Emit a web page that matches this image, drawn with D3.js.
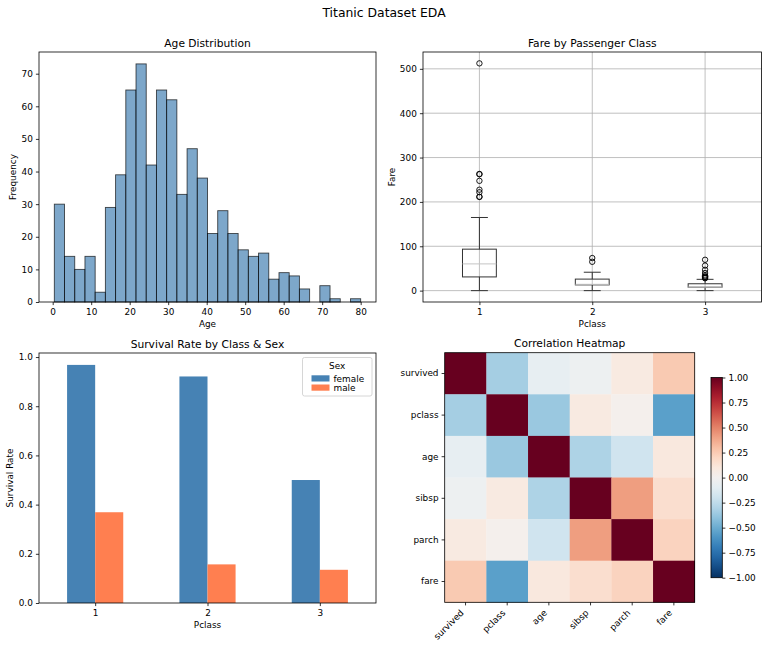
<!DOCTYPE html>
<html>
<head>
<meta charset="utf-8">
<script src="https://cdn.jsdelivr.net/npm/d3@7"></script>
<style>
  body { margin: 0; background: #fff; }
  svg, text { font-family: "DejaVu Sans", sans-serif; }
  text { fill: #000; }
</style>
</head>
<body>
<svg id="fig" width="768" height="649" font-family="DejaVu Sans"></svg>
<script>
// ---- data ----
var ageRange = [0.42, 80];
var ageCounts = [30, 14, 10, 14, 3, 29, 39, 65, 73, 42, 65, 62, 33, 47, 38,
                 21, 28, 21, 16, 14, 15, 7, 9, 8, 4, 0, 5, 1, 0, 1];
var ageTicks = [0, 10, 20, 30, 40, 50, 60, 70, 80];
var freqTicks = [0, 10, 20, 30, 40, 50, 60, 70];

var pclasses = [1, 2, 3];
var fareQ1 = [30.92, 13, 7.75];
var fareMedian = [60.29, 14.25, 8.05];
var fareQ3 = [93.5, 26, 15.5];
var fareLo = [0, 0, 0];
var fareHi = [164.87, 41.5, 25.47];
var fareOutliers = [
  [211.34, 211.5, 221.78, 227.53, 247.52, 262.38, 263, 512.33],
  [65, 73.5],
  [27.9, 29.13, 31.28, 31.39, 34.38, 39.69, 46.9, 56.5, 69.55]
];
var fareTicks = [0, 100, 200, 300, 400, 500];

var sexes = ['female', 'male'];
var survFemale = [0.968, 0.921, 0.5];
var survMale = [0.369, 0.157, 0.135];
var survTicks = [0, 0.2, 0.4, 0.6, 0.8, 1.0];

var corrVars = ['survived', 'pclass', 'age', 'sibsp', 'parch', 'fare'];
var corr = [
  [1.000, -0.338, -0.077, -0.035, 0.082, 0.257],
  [-0.338, 1.000, -0.369, 0.083, 0.018, -0.549],
  [-0.077, -0.369, 1.000, -0.308, -0.189, 0.096],
  [-0.035, 0.083, -0.308, 1.000, 0.415, 0.160],
  [0.082, 0.018, -0.189, 0.415, 1.000, 0.216],
  [0.257, -0.549, 0.096, 0.160, 0.216, 1.000]
];
var cbarTicks = [1, 0.75, 0.5, 0.25, 0, -0.25, -0.5, -0.75, -1];

// ---- figure ----
var svg = d3.select('#fig');
var fs = 8.9, tfs = 10.7;
var minus = s => s.replace('-', '\u2212');

svg.append('text').attr('x', 384).attr('y', 16.5).attr('text-anchor', 'middle')
  .style('font-size', '12.4px').text('Titanic Dataset EDA');

function styleAxis(g) {
  g.select('.domain').remove();
  g.attr('font-family', 'DejaVu Sans').attr('font-size', null);
  g.selectAll('line').attr('stroke', '#000').attr('stroke-width', 0.8);
  g.selectAll('text').style('font-size', fs + 'px').style('font-family', 'DejaVu Sans');
}
function frame(b) {
  svg.append('rect').attr('x', b.l).attr('y', b.t).attr('width', b.r - b.l).attr('height', b.b - b.t)
    .attr('fill', 'none').attr('stroke', '#000').attr('stroke-width', 0.8);
}
function titles(b, title, xlab, ylab, xlabY, ylabX) {
  svg.append('text').attr('x', (b.l + b.r) / 2).attr('y', b.t - 5.5).attr('text-anchor', 'middle')
    .style('font-size', tfs + 'px').text(title);
  if (xlab) svg.append('text').attr('x', (b.l + b.r) / 2).attr('y', xlabY).attr('text-anchor', 'middle')
    .style('font-size', fs + 'px').text(xlab);
  if (ylab) svg.append('text').attr('transform', 'translate(' + ylabX + ',' + ((b.t + b.b) / 2) + ') rotate(-90)')
    .attr('text-anchor', 'middle').style('font-size', fs + 'px').text(ylab);
}

// 1. Age histogram
var b1 = {l: 39, r: 376, t: 52, b: 302};
var binW = (ageRange[1] - ageRange[0]) / ageCounts.length;
var pad1 = (ageRange[1] - ageRange[0]) * 0.05;
var x1 = d3.scaleLinear().domain([ageRange[0] - pad1, ageRange[1] + pad1]).range([b1.l, b1.r]);
var y1 = d3.scaleLinear().domain([0, d3.max(ageCounts) * 1.05]).range([b1.b, b1.t]);
svg.append('g').selectAll('rect').data(ageCounts).join('rect')
  .attr('x', (d, i) => x1(ageRange[0] + i * binW))
  .attr('width', (d, i) => x1(ageRange[0] + (i + 1) * binW) - x1(ageRange[0] + i * binW))
  .attr('y', d => y1(d)).attr('height', d => y1(0) - y1(d))
  .attr('fill', 'steelblue').attr('fill-opacity', 0.7)
  .attr('stroke', '#000').attr('stroke-opacity', 0.7).attr('stroke-width', 0.9)
  .style('display', d => d > 0 ? null : 'none');
frame(b1);
svg.append('g').attr('transform', 'translate(0,' + b1.b + ')')
  .call(d3.axisBottom(x1).tickValues(ageTicks).tickSize(3.1).tickPadding(3.1)).call(styleAxis);
svg.append('g').attr('transform', 'translate(' + b1.l + ',0)')
  .call(d3.axisLeft(y1).tickValues(freqTicks).tickSize(3.1).tickPadding(3.1)).call(styleAxis);
titles(b1, 'Age Distribution', 'Age', 'Frequency', 327, 16);

// 2. Fare boxplot
var b2 = {l: 423, r: 761.5, t: 52, b: 302};
var allFare = fareOutliers.flat().concat(fareLo);
var fmin = d3.min(allFare), fmax = d3.max(allFare), pad2 = (fmax - fmin) * 0.05;
var x2 = d3.scaleLinear().domain([0.5, 3.5]).range([b2.l, b2.r]);
var y2 = d3.scaleLinear().domain([fmin - pad2, fmax + pad2]).range([b2.b, b2.t]);
var grid = svg.append('g').attr('stroke', '#b0b0b0').attr('stroke-width', 0.8);
grid.selectAll('.gx').data(pclasses).join('line').attr('x1', d => x2(d)).attr('x2', d => x2(d))
  .attr('y1', b2.t).attr('y2', b2.b);
grid.selectAll('.gy').data(fareTicks).join('line').attr('y1', d => y2(d)).attr('y2', d => y2(d))
  .attr('x1', b2.l).attr('x2', b2.r);
var bw = 0.3;
var boxes = svg.append('g').selectAll('g').data(pclasses).join('g');
boxes.append('line').attr('x1', d => x2(d)).attr('x2', d => x2(d))
  .attr('y1', (d, i) => y2(fareLo[i])).attr('y2', (d, i) => y2(fareQ1[i])).attr('stroke', '#333');
boxes.append('line').attr('x1', d => x2(d)).attr('x2', d => x2(d))
  .attr('y1', (d, i) => y2(fareQ3[i])).attr('y2', (d, i) => y2(fareHi[i])).attr('stroke', '#333');
boxes.append('line').attr('x1', d => x2(d - bw / 4)).attr('x2', d => x2(d + bw / 4))
  .attr('y1', (d, i) => y2(fareLo[i])).attr('y2', (d, i) => y2(fareLo[i])).attr('stroke', '#333');
boxes.append('line').attr('x1', d => x2(d - bw / 4)).attr('x2', d => x2(d + bw / 4))
  .attr('y1', (d, i) => y2(fareHi[i])).attr('y2', (d, i) => y2(fareHi[i])).attr('stroke', '#333');
boxes.append('rect').attr('x', d => x2(d - bw / 2)).attr('width', x2(bw) - x2(0))
  .attr('y', (d, i) => y2(fareQ3[i])).attr('height', (d, i) => y2(fareQ1[i]) - y2(fareQ3[i]))
  .attr('fill', 'none').attr('stroke', '#333');
boxes.append('line').attr('x1', d => x2(d - bw / 2)).attr('x2', d => x2(d + bw / 2))
  .attr('y1', (d, i) => y2(fareMedian[i])).attr('y2', (d, i) => y2(fareMedian[i])).attr('stroke', '#c4c4c4');
boxes.each(function (d, i) {
  d3.select(this).selectAll('circle').data(fareOutliers[i]).join('circle')
    .attr('cx', x2(d)).attr('cy', v => y2(v)).attr('r', 2.7)
    .attr('fill', 'none').attr('stroke', '#000').attr('stroke-width', 0.9);
});
frame(b2);
svg.append('g').attr('transform', 'translate(0,' + b2.b + ')')
  .call(d3.axisBottom(x2).tickValues(pclasses).tickFormat(d3.format('d')).tickSize(3.1).tickPadding(3.1))
  .call(styleAxis);
svg.append('g').attr('transform', 'translate(' + b2.l + ',0)')
  .call(d3.axisLeft(y2).tickValues(fareTicks).tickSize(3.1).tickPadding(3.1)).call(styleAxis);
titles(b2, 'Fare by Passenger Class', 'Pclass', 'Fare', 327, 395);

// 3. Survival bars
var b3 = {l: 39, r: 376, t: 353, b: 603};
var x3 = d3.scaleLinear().domain([-0.5, 2.5]).range([b3.l, b3.r]);
var y3 = d3.scaleLinear().domain([0, d3.max(survFemale.concat(survMale)) * 1.05]).range([b3.b, b3.t]);
var series = [{name: sexes[0], vals: survFemale, color: 'steelblue', off: -0.125},
              {name: sexes[1], vals: survMale, color: 'coral', off: 0.125}];
series.forEach(function (s) {
  svg.append('g').selectAll('rect').data(s.vals).join('rect')
    .attr('x', (d, i) => x3(i + s.off - 0.125)).attr('width', x3(0.25) - x3(0))
    .attr('y', d => y3(d)).attr('height', d => y3(0) - y3(d)).attr('fill', s.color);
});
frame(b3);
svg.append('g').attr('transform', 'translate(0,' + b3.b + ')')
  .call(d3.axisBottom(x3).tickValues([0, 1, 2]).tickFormat((d, i) => pclasses[i]).tickSize(3.1).tickPadding(3.1))
  .call(styleAxis);
svg.append('g').attr('transform', 'translate(' + b3.l + ',0)')
  .call(d3.axisLeft(y3).tickValues(survTicks).tickFormat(d3.format('.1f')).tickSize(3.1).tickPadding(3.1))
  .call(styleAxis);
titles(b3, 'Survival Rate by Class & Sex', 'Pclass', 'Survival Rate', 628, 13);
var lg = svg.append('g').attr('transform', 'translate(302.5,357.5)');
lg.append('rect').attr('width', 69.5).attr('height', 38.5).attr('rx', 2)
  .attr('fill', '#fff').attr('fill-opacity', 0.8).attr('stroke', '#ccc').attr('stroke-width', 0.8);
lg.append('text').attr('x', 34.7).attr('y', 11.8).attr('text-anchor', 'middle').style('font-size', fs + 'px').text('Sex');
series.forEach(function (s, i) {
  lg.append('rect').attr('x', 9).attr('y', 17.8 + i * 9.2).attr('width', 18).attr('height', 6.2).attr('fill', s.color);
  lg.append('text').attr('x', 31).attr('y', 24.2 + i * 9.2).style('font-size', fs + 'px').text(s.name);
});

// 4. Correlation heatmap
var b4 = {l: 444.7, r: 694.7, t: 352.7, b: 602.3};
var x4 = d3.scaleBand().domain(corrVars).range([b4.l, b4.r]);
var y4 = d3.scaleBand().domain(corrVars).range([b4.t, b4.b]);
var col = v => d3.interpolateRdBu((1 - v) / 2);
corr.forEach(function (row, i) {
  svg.append('g').selectAll('rect').data(row).join('rect')
    .attr('x', (d, j) => x4(corrVars[j])).attr('y', y4(corrVars[i]))
    .attr('width', x4.bandwidth() + 0.3).attr('height', y4.bandwidth() + 0.3)
    .attr('fill', d => col(d));
});
frame(b4);
var gx4 = svg.append('g').attr('transform', 'translate(0,' + b4.b + ')')
  .call(d3.axisBottom(x4).tickSize(3.1).tickPadding(3.1)).call(styleAxis);
gx4.selectAll('text').attr('text-anchor', 'end').attr('dy', null).attr('y', 0)
  .attr('transform', 'translate(-1.3,11.2) rotate(-45)');
svg.append('g').attr('transform', 'translate(' + b4.l + ',0)')
  .call(d3.axisLeft(y4).tickSize(3.1).tickPadding(3.1)).call(styleAxis);
titles(b4, 'Correlation Heatmap');

// colorbar
var cb = {l: 711, r: 722.3, t: 377.5, b: 577.7};
var yc = d3.scaleLinear().domain([-1, 1]).range([cb.b, cb.t]);
var grad = svg.append('defs').append('linearGradient').attr('id', 'cbg')
  .attr('x1', 0).attr('y1', 1).attr('x2', 0).attr('y2', 0);
grad.selectAll('stop').data(d3.range(0, 1.0001, 0.05)).join('stop')
  .attr('offset', d => d).attr('stop-color', d => col(d * 2 - 1));
svg.append('rect').attr('x', cb.l).attr('y', cb.t).attr('width', cb.r - cb.l).attr('height', cb.b - cb.t)
  .attr('fill', 'url(#cbg)').attr('stroke', '#000').attr('stroke-width', 0.8);
svg.append('g').attr('transform', 'translate(' + cb.r + ',0)')
  .call(d3.axisRight(yc).tickValues(cbarTicks).tickFormat(d => minus(d3.format('.2f')(d))).tickSize(3.1).tickPadding(3.1))
  .call(styleAxis);
</script>
</body>
</html>
